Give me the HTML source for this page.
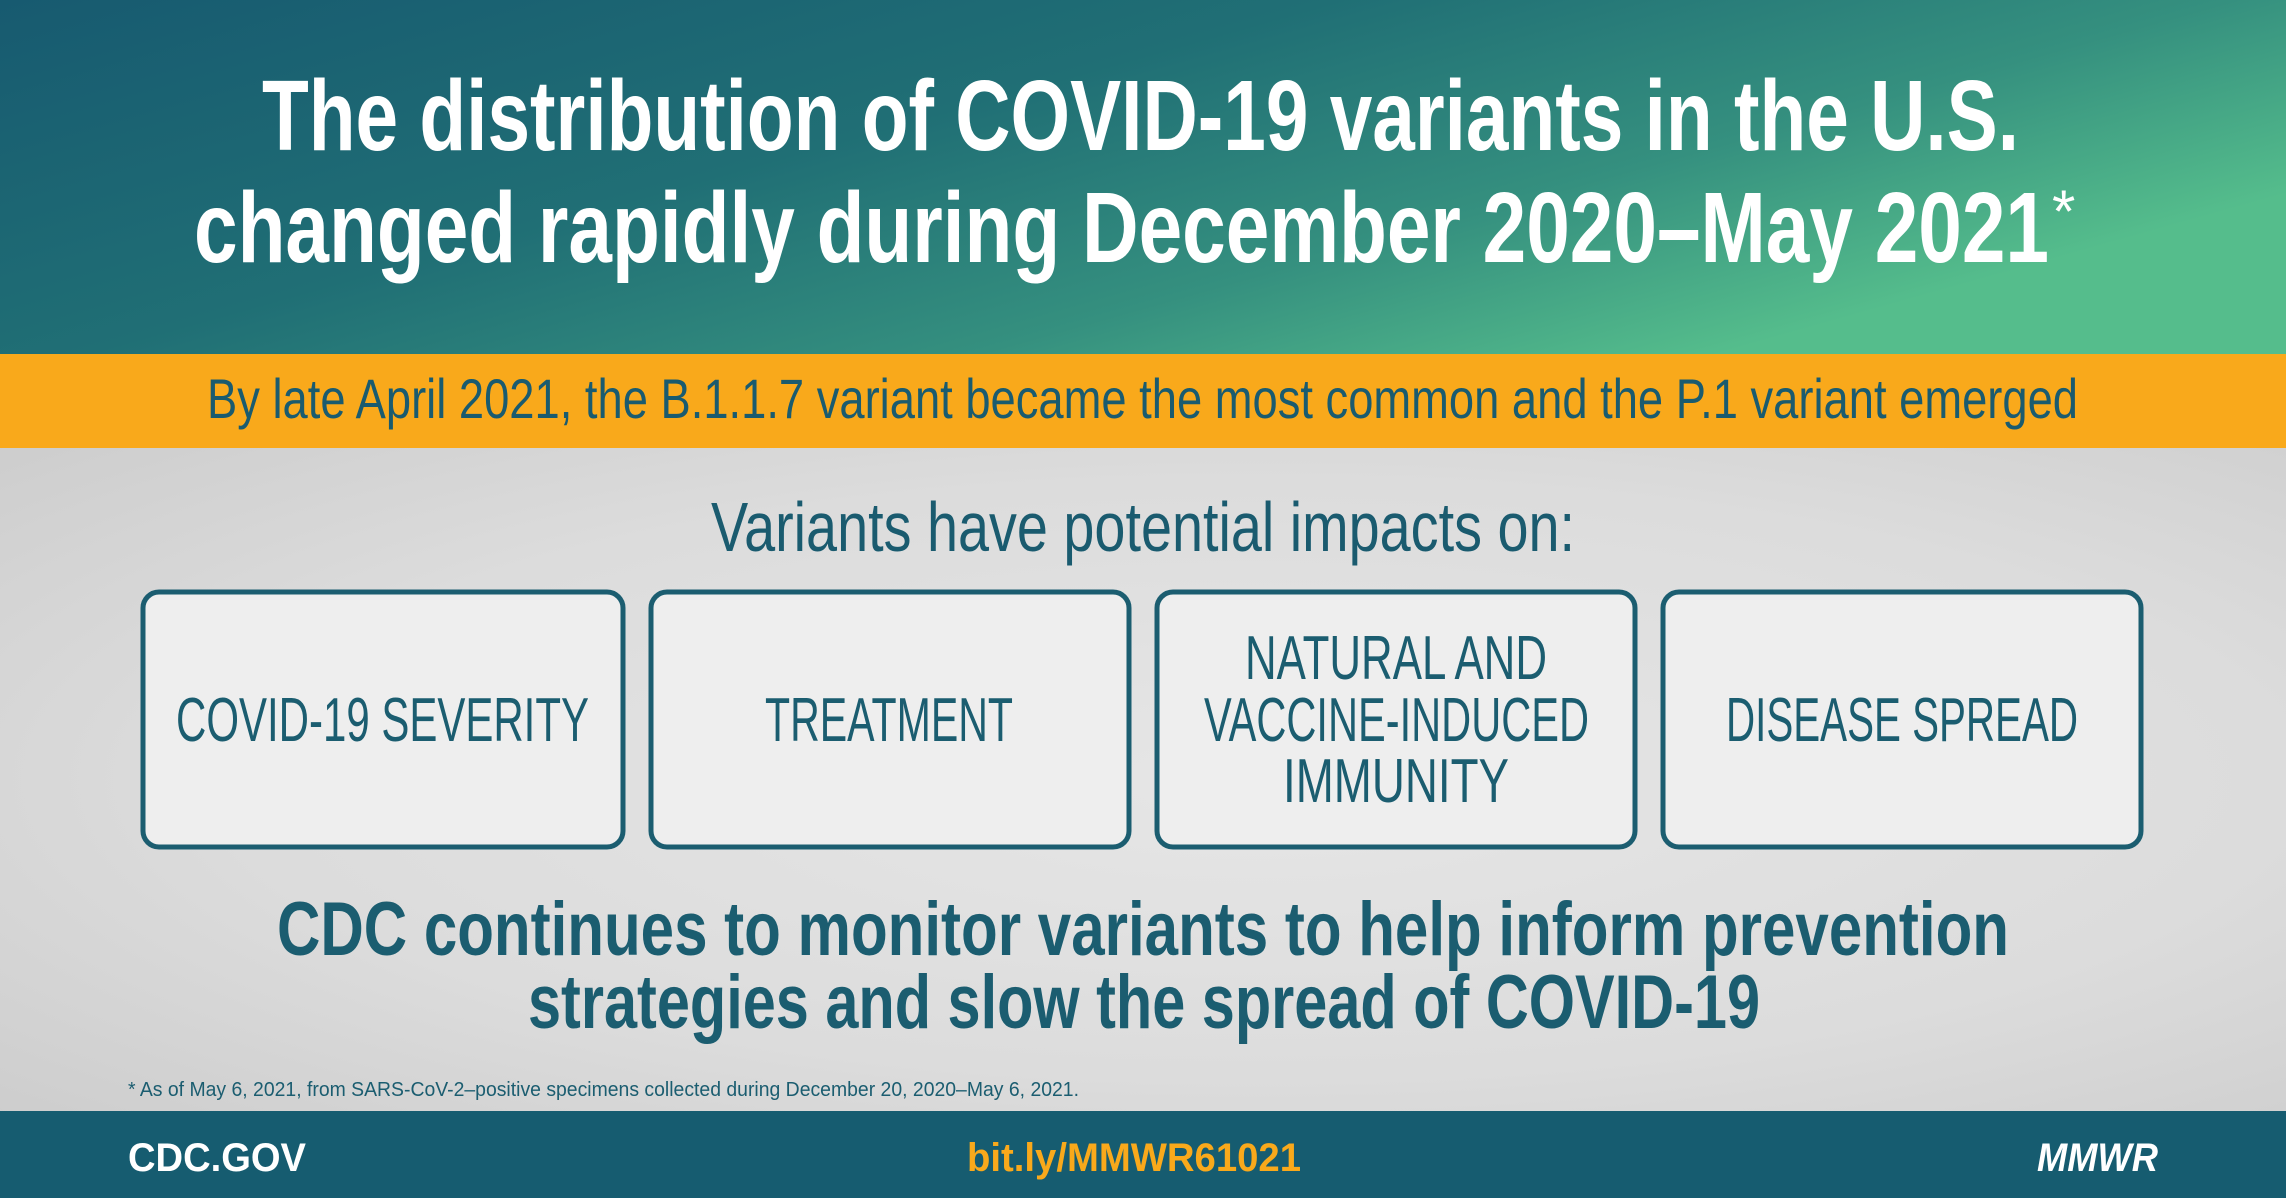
<!DOCTYPE html>
<html><head><meta charset="utf-8"><style>
html,body{margin:0;padding:0;background:#fff}
svg{display:block}
text{font-family:"Liberation Sans Narrow","Liberation Sans",sans-serif}
</style></head><body>
<svg width="2286" height="1198" viewBox="0 0 2286 1198" xmlns="http://www.w3.org/2000/svg">
<defs>
<linearGradient id="hg" x1="0" y1="0" x2="1" y2="0.55">
<stop offset="0" stop-color="#175a70"/>
<stop offset="0.45" stop-color="#206f75"/>
<stop offset="0.75" stop-color="#35907f"/>
<stop offset="1" stop-color="#55bd8c"/>
</linearGradient>
<radialGradient id="gg" cx="0.55" cy="0.5" r="0.75">
<stop offset="0" stop-color="#e6e6e6"/>
<stop offset="0.6" stop-color="#dcdcdc"/>
<stop offset="1" stop-color="#cdcdcd"/>
</radialGradient>
</defs>
<rect x="0" y="0" width="2286" height="354" fill="url(#hg)"/>
<text x="262" y="150" font-size="100" font-weight="bold" fill="#fff" textLength="1757" lengthAdjust="spacingAndGlyphs">The distribution of COVID-19 variants in the U.S.</text>
<text x="194" y="262" font-size="100" font-weight="bold" fill="#fff" textLength="1855" lengthAdjust="spacingAndGlyphs">changed rapidly during December 2020–May 2021</text>
<text x="2052" y="232" font-size="60" fill="#fff">*</text>
<rect x="0" y="354" width="2286" height="94" fill="#f9a91b"/>
<text x="207" y="418" font-size="56" fill="#1a5b6f" textLength="1871" lengthAdjust="spacingAndGlyphs">By late April 2021, the B.1.1.7 variant became the most common and the P.1 variant emerged</text>
<rect x="0" y="448" width="2286" height="663" fill="url(#gg)"/>
<text x="711" y="551" font-size="70" fill="#1a5b6f" textLength="864" lengthAdjust="spacingAndGlyphs">Variants have potential impacts on:</text>
<g fill="#eeeeee" stroke="#1b5d70" stroke-width="5">
<rect x="143" y="592" width="480" height="255" rx="16"/>
<rect x="651" y="592" width="478" height="255" rx="16"/>
<rect x="1157" y="592" width="478" height="255" rx="16"/>
<rect x="1663" y="592" width="478" height="255" rx="16"/>
</g>
<g fill="#1b5d70" font-size="62">
<text x="176" y="741" textLength="413" lengthAdjust="spacingAndGlyphs">COVID-19 SEVERITY</text>
<text x="765" y="741" textLength="248" lengthAdjust="spacingAndGlyphs">TREATMENT</text>
<text x="1245" y="679" textLength="302" lengthAdjust="spacingAndGlyphs">NATURAL AND</text>
<text x="1204" y="741" textLength="385" lengthAdjust="spacingAndGlyphs">VACCINE-INDUCED</text>
<text x="1283" y="802" textLength="226" lengthAdjust="spacingAndGlyphs">IMMUNITY</text>
<text x="1726" y="741" textLength="352" lengthAdjust="spacingAndGlyphs">DISEASE SPREAD</text>
</g>
<text x="277" y="955" font-size="76" font-weight="bold" fill="#1b5d70" textLength="1732" lengthAdjust="spacingAndGlyphs">CDC continues to monitor variants to help inform prevention</text>
<text x="528" y="1028" font-size="76" font-weight="bold" fill="#1b5d70" textLength="1232" lengthAdjust="spacingAndGlyphs">strategies and slow the spread of COVID-19</text>
<text x="128" y="1096" font-size="20" fill="#1b5d70" textLength="951" lengthAdjust="spacingAndGlyphs">* As of May 6, 2021, from SARS-CoV-2–positive specimens collected during December 20, 2020–May 6, 2021.</text>
<rect x="0" y="1111" width="2286" height="87" fill="#165c70"/>
<text x="128" y="1171" font-size="40" font-weight="bold" fill="#fff" textLength="178" lengthAdjust="spacingAndGlyphs">CDC.GOV</text>
<text x="967" y="1171" font-size="40" font-weight="bold" fill="#f9a91b" textLength="334" lengthAdjust="spacingAndGlyphs">bit.ly/MMWR61021</text>
<text x="2037" y="1171" font-size="40" font-weight="bold" font-style="italic" fill="#fff" textLength="121" lengthAdjust="spacingAndGlyphs">MMWR</text>
</svg>
</body></html>
